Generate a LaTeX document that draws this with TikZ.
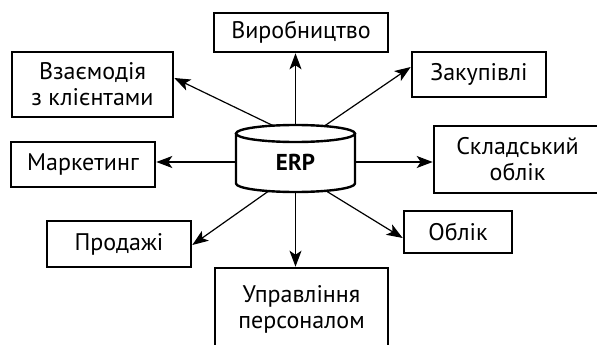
\documentclass[tikz,border=0pt]{standalone}
\usepackage{fontspec}
\setmainfont{PT Sans}
\usetikzlibrary{arrows.meta,calc}
\begin{document}
\begin{tikzpicture}[x=1pt,y=-1pt,
  box/.style={draw,line width=2.6pt,inner sep=0pt,align=center,
    font=\fontsize{24}{26}\selectfont},
  arr/.style={line width=1.2pt,-{Stealth[length=16pt,width=12pt,inset=4pt]}},
  cyl/.style={line width=2.4pt}]
\useasboundingbox (0,0) rectangle (597,345);
\begin{scope}
\clip (0,0) rectangle (597,345);
\node[box,minimum width=174pt,minimum height=39pt] (vyr) at (301,32.5) {Виробництво};
\node[box,minimum width=161pt,minimum height=65pt] (vz) at (92.5,84.5) {Взаємодія\\з клієнтами};
\node[box,minimum width=134pt,minimum height=45pt] (zak) at (479,74.5) {Закупівлі};
\node[box,minimum width=144pt,minimum height=45pt] (mark) at (83,164.5) {Маркетинг};
\node[box,minimum width=167pt,minimum height=67pt] (skl) at (517.5,159.5) {Складський\\облік};
\node[box,minimum width=144pt,minimum height=46pt] (prod) at (119,244) {Продажі};
\node[box,minimum width=108pt,minimum height=42pt] (obl) at (458,232) {Облік};
\node[box,minimum width=173pt,minimum height=82pt] (upr) at (301.5,309) {Управління\\персоналом};
\end{scope}
% ERP cylinder
\node[inner sep=0pt,minimum width=119pt,minimum height=60pt,
  font=\fontsize{23}{26}\selectfont\bfseries] (erp) at (295.5,162) {ERP};
\draw[cyl] (295.5,133.5) ellipse [x radius=59.5, y radius=8.5];
\draw[cyl] (236,133.5) -- (236,183.5) arc[start angle=180,end angle=0,x radius=59.5,y radius=8.5] -- (355,133.5);
\coordinate (etop) at (295.5,125);
\coordinate (ebot) at (295.5,192);
\coordinate (etl) at (273,125.6);
\coordinate (etr) at (325,125.6);
\coordinate (ebl) at (268,191.5);
\coordinate (ebr) at (327,191.5);
% connectors
\draw[arr] (etop) -- (etop |- vyr.south);
\draw[arr] (ebot) -- (ebot |- upr.north);
\draw[arr] (erp.west) -- (erp.west -| mark.east);
\draw[arr] (erp.east) -- (erp.east -| skl.west);
\draw[arr] (etl) -- ($(vz.east)+(0,-6.5)$);
\draw[arr] (etr) -- ($(zak.west)+(0,-7.5)$);
\draw[arr] (ebl) -- ($(prod.east)+(0,1)$);
\draw[arr] (ebr) -- ($(obl.west)+(0,6)$);
\end{tikzpicture}
\end{document}
